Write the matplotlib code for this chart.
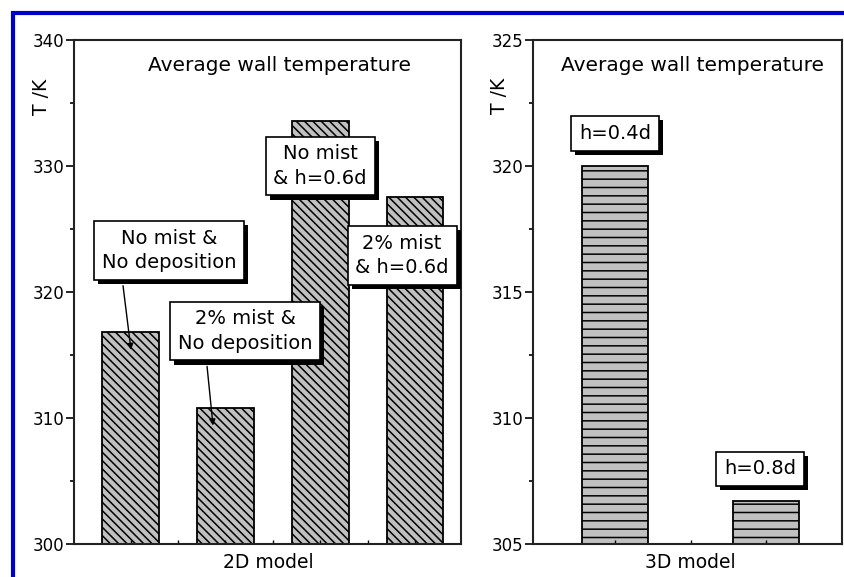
import matplotlib
matplotlib.use("Agg")
import matplotlib.pyplot as plt
import matplotlib.patches as mpatches
import matplotlib.patheffects as pe
from matplotlib.ticker import MultipleLocator

plt.rcParams['font.family'] = ['DejaVu Sans']
plt.rcParams['hatch.linewidth'] = 1.1

# ---- data ----
cases_2d = ["No mist &\nNo deposition", "2% mist &\nNo deposition",
            "No mist\n& h=0.6d", "2% mist\n& h=0.6d"]
temps_2d = [316.8, 310.8, 333.6, 327.5]
cases_3d = ["h=0.4d", "h=0.8d"]
temps_3d = [320.0, 306.7]
title_text = "Average wall temperature"
ylabel_text = "T /K"
xlabel_2d = "2D model"
xlabel_3d = "3D model"

fig = plt.figure(figsize=(8.45, 5.77), dpi=100)
W, H = 845, 577

def ax_rect(x0, x1, ytop, ybot):
    return [x0 / W, 1 - ybot / H, (x1 - x0) / W, (ybot - ytop) / H]

ax1 = fig.add_axes(ax_rect(74, 461, 40, 544))
ax2 = fig.add_axes(ax_rect(533, 842, 40, 544))

fs_tick = 12
fs_box = 14
fs_title = 14.5
fs_label = 13.5

def style_axes(ax, ylim, major, minor):
    ax.set_ylim(*ylim)
    ax.yaxis.set_major_locator(MultipleLocator(major))
    ax.yaxis.set_minor_locator(MultipleLocator(minor))
    ax.tick_params(axis='y', which='major', direction='out', length=6, width=1.2,
                   labelsize=fs_tick, pad=1)
    ax.tick_params(axis='y', which='minor', direction='out', length=3, width=1.2)
    ax.tick_params(axis='x', which='both', direction='in', length=3, width=1,
                   labelbottom=False)
    for s in ax.spines.values():
        s.set_linewidth(1.5)
        s.set_color('#222222')

def add_box(ax, x, y, txt, fs=fs_box):
    t = ax.text(x, y, txt, ha='center', va='center', fontsize=fs,
                linespacing=1.35,
                bbox=dict(boxstyle='square,pad=0.4', fc='white', ec='black', lw=1.2))
    t.get_bbox_patch().set_path_effects(
        [pe.SimplePatchShadow(offset=(3, -3), shadow_rgbFace='black', alpha=1.0),
         pe.Normal()])
    t.set_zorder(5)
    return t

# ---- left panel (2D) ----
x2d = [1, 2, 3, 4]
ax1.bar(x2d, [v - 300 for v in temps_2d], bottom=300, width=0.6,
        color='#c0c0c0', edgecolor='black', hatch='\\\\\\\\', linewidth=1.3)
style_axes(ax1, (300, 340), 10, 5)
ax1.set_xlim(0.404, 4.485)
ax1.set_xticks(x2d)
ax1.set_xticks([1.5, 2.5, 3.5], minor=True)

ax1.text(0.53, 0.95, title_text, transform=ax1.transAxes, ha='center', va='center',
         fontsize=fs_title)

add_box(ax1, 1.406, 323.3, cases_2d[0])
add_box(ax1, 2.208, 316.9, cases_2d[1])
add_box(ax1, 2.999, 330.0, cases_2d[2])
add_box(ax1, 3.864, 322.9, cases_2d[3])

arrow_kw = dict(arrowstyle='-|>', color='black', lw=1.0, mutation_scale=9,
                shrinkA=0, shrinkB=0)
ax1.annotate('', xy=(1.005, temps_2d[0] - 1.4), xytext=(0.921, 320.5),
             arrowprops=arrow_kw, zorder=4)
ax1.annotate('', xy=(1.87, temps_2d[1] - 1.4), xytext=(1.807, 314.1),
             arrowprops=arrow_kw, zorder=4)

# ---- right panel (3D) ----
x3d = [1, 2]
ax2.bar(x3d, [v - 305 for v in temps_3d], bottom=305, width=0.44,
        color='#c0c0c0', edgecolor='black', hatch='--', linewidth=1.3)
style_axes(ax2, (305, 325), 5, 2.5)
ax2.set_xlim(0.457, 2.503)
ax2.set_xticks(x3d)
ax2.set_xticks([1.5], minor=True)

ax2.text(0.515, 0.95, title_text, transform=ax2.transAxes, ha='center', va='center',
         fontsize=fs_title)
add_box(ax2, 1.0, 321.3, cases_3d[0])
add_box(ax2, 1.96, 307.98, cases_3d[1])

# ---- axis labels ----
fig.text(42 / W, 1 - 97 / H, ylabel_text, rotation=90, ha='center', va='center',
         fontsize=fs_label)
fig.text(500 / W, 1 - 96 / H, ylabel_text, rotation=90, ha='center', va='center',
         fontsize=fs_label)
fig.text(268 / W, 1 - 562 / H, xlabel_2d, ha='center', va='center', fontsize=fs_label)
fig.text(690 / W, 1 - 562 / H, xlabel_3d, ha='center', va='center', fontsize=fs_label)

# ---- blue frame ----
frame = mpatches.Rectangle((13 / W, -0.2), 2.0, 1.2 - 13 / H,
                           transform=fig.transFigure, fill=False,
                           edgecolor='#0000cc', linewidth=3.0, clip_on=False)
fig.patches.append(frame)

fig.savefig("out.png", dpi=100)
